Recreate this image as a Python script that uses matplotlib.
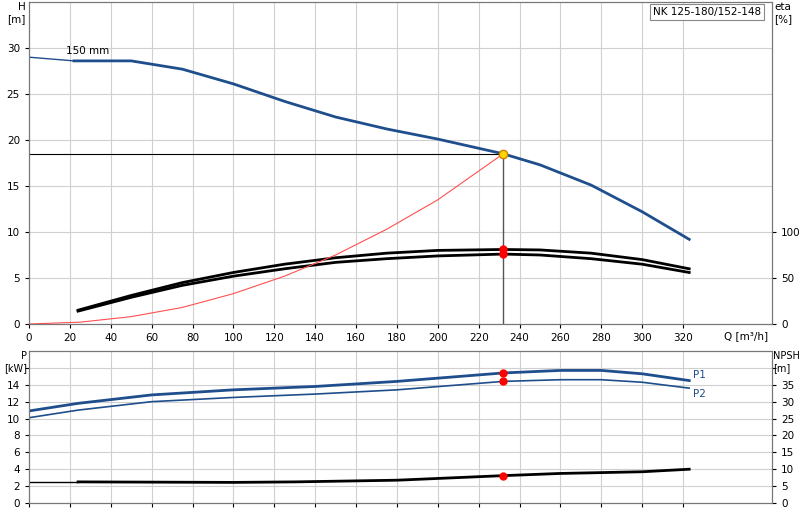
import matplotlib.pyplot as plt

# pump curve
q_h = [0, 22, 50, 75, 100, 125, 150, 175, 200, 220, 232, 250, 275, 300, 323]
h = [29.0, 28.6, 28.6, 27.7, 26.1, 24.2, 22.5, 21.2, 20.1, 19.1, 18.5, 17.3, 15.1, 12.2, 9.2]
# efficiency curves (eta %)
q_eta = [24, 50, 75, 100, 125, 150, 175, 200, 232, 250, 275, 300, 323]
eta1 = [15, 31, 45, 56, 65, 72, 77, 80, 81, 80.5, 77, 70, 60]
eta2 = [14, 29, 42, 52, 60, 67, 71, 74, 76, 75, 71, 65, 56]
# system curve
q_sys = [0, 25, 50, 75, 100, 125, 150, 175, 200, 232]
h_sys = [0, 0.2, 0.8, 1.8, 3.3, 5.2, 7.5, 10.3, 13.5, 18.5]
# power and NPSH
q_p = [0, 24, 60, 100, 140, 180, 232, 260, 280, 300, 323]
p1 = [10.9, 11.8, 12.8, 13.4, 13.8, 14.4, 15.4, 15.7, 15.7, 15.3, 14.5]
p2 = [10.1, 11.0, 12.0, 12.5, 12.9, 13.4, 14.4, 14.6, 14.6, 14.3, 13.6]
q_npsh = [0, 24, 100, 130, 180, 232, 260, 300, 323]
npsh = [6.25, 6.25, 6.1, 6.25, 6.75, 8.1, 8.75, 9.25, 10.0]
q_op, h_op, p1_op, p2_op, npsh_op = 232, 18.5, 15.4, 14.4, 8.1
eta1_op, eta2_op = 81, 76

blue = '#1f4e8c'
grid = '#d0d0d0'
xmax = 363.5
fs = 7.5

fig = plt.figure(figsize=(8, 5.2), dpi=100)
ax = fig.add_axes([29/800, 1 - 324/520, 743/800, 322/520])
ax2 = fig.add_axes([29/800, 1 - 503/520, 743/800, 152/520])

ax.plot(q_h[:2], h[:2], color=blue, lw=1)
ax.plot(q_h[1:], h[1:], color=blue, lw=2)
ax.plot(q_eta, [e / 10 for e in eta1], color='black', lw=2)
ax.plot(q_eta, [e / 10 for e in eta2], color='black', lw=2)
ax.plot(q_sys, h_sys, color='#ff5050', lw=0.8)
ax.plot([0, q_op], [h_op, h_op], color='black', lw=0.8)
ax.plot([q_op, q_op], [0, h_op], color='#555555', lw=1)
ax.plot(q_op, h_op, 'o', color='#ffd700', mec='#d08000', ms=6, zorder=5)
ax.plot([q_op, q_op], [eta1_op / 10, eta2_op / 10], 'o', color='red', ms=5, zorder=5)
ax.text(18, 29.3, '150 mm', fontsize=fs)
ax.set_xlim(0, xmax)
ax.set_ylim(0, 35)
ax.set_xticks(range(0, 340, 20))
ax.set_yticks(range(0, 35, 5))
ax.grid(True, color=grid, lw=0.8)
ax.tick_params(labelsize=fs, length=3)
ax.text(-0.005, 1.0, 'H\n[m]', transform=ax.transAxes, ha='right', va='top', fontsize=fs)
ax.text(xmax - 2, -0.8, 'Q [m³/h]', fontsize=fs, ha='right', va='top')
axr = ax.twinx()
axr.set_ylim(0, 350)
axr.set_yticks([0, 50, 100])
axr.tick_params(labelsize=fs, length=3)
axr.text(1.003, 1.0, 'eta\n[%]', transform=ax.transAxes, ha='left', va='top', fontsize=fs)
ax.text(0.985, 0.985, 'NK 125-180/152-148', transform=ax.transAxes, ha='right', va='top',
        fontsize=fs, bbox=dict(fc='white', ec='#888888', lw=0.8, pad=2))

ax2.plot(q_p, p1, color=blue, lw=2)
ax2.plot(q_p, p2, color=blue, lw=1.2)
ax2.plot(q_npsh[:2], [n / 2.5 for n in npsh[:2]], color='black', lw=1)
ax2.plot(q_npsh[1:], [n / 2.5 for n in npsh[1:]], color='black', lw=2)
ax2.plot([q_op] * 3, [p1_op, p2_op, npsh_op / 2.5], 'o', color='red', ms=5, zorder=5)
ax2.text(325, 14.8, 'P1', color=blue, fontsize=fs)
ax2.text(325, 12.6, 'P2', color=blue, fontsize=fs)
ax2.set_xlim(0, xmax)
ax2.set_ylim(0, 18)
ax2.set_xticks(range(0, 340, 20))
ax2.set_xticklabels([])
ax2.set_yticks(range(0, 18, 2))
ax2.set_yticklabels([str(v) if v < 16 else '' for v in range(0, 18, 2)])
ax2.grid(True, color=grid, lw=0.8)
ax2.tick_params(labelsize=fs, length=3)
ax2.text(-0.003, 1.0, 'P\n[kW]', transform=ax2.transAxes, ha='right', va='top', fontsize=7)
ax2r = ax2.twinx()
ax2r.set_ylim(0, 45)
ax2r.set_yticks(range(0, 45, 5))
ax2r.set_yticklabels([str(v) if v < 40 else '' for v in range(0, 45, 5)])
ax2r.tick_params(labelsize=fs, length=3)
ax2r.text(1.001, 1.0, 'NPSH\n[m]', transform=ax2.transAxes, ha='left', va='top', fontsize=7)

for a in (ax, ax2, axr, ax2r):
    for s in a.spines.values():
        s.set_color('#777777')

fig.savefig('out.png', dpi=100)
